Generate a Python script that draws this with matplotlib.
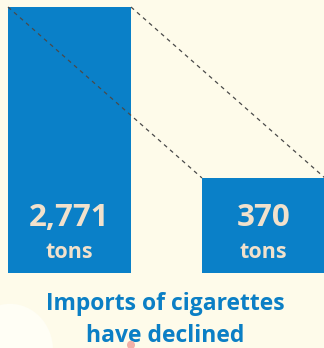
import matplotlib
matplotlib.use("Agg")
import matplotlib.pyplot as plt
from matplotlib.patches import Circle
from matplotlib.transforms import blended_transform_factory


# data
categories = ["before", "after"]
tons = [2771, 370]
value_labels = ["2,771", "370"]
unit_label = "tons"
title_lines = ["Imports of cigarettes", "have declined"]

BG_COLOR = "#FEFBEA"
BAR_COLOR = "#0A80C8"
NUM_COLOR = "#F1E1CC"
TITLE_COLOR = "#0B7FC5"
FONT = ["Open Sans", "DejaVu Sans"]

fig = plt.figure(figsize=(3.24, 3.48), dpi=100)
fig.patch.set_facecolor(BG_COLOR)

# lighter blob bottom left
fig.patches.append(Circle((10 / 324, 1 - 350 / 348), 43 / 324, transform=fig.transFigure,
                          facecolor="#FFFEF5", edgecolor="none", zorder=0))

ax = fig.add_axes([0, 75.5 / 348, 1, 265.5 / 348])
ax.set_facecolor("none")
ax.set_zorder(2)

x = [0, 1]
width = 123 / 194
bars = ax.bar(x, tons, width=width, bottom=1, color=BAR_COLOR, zorder=1)
ax.set_yscale("log")
ax.set_ylim(121.6, tons[0])
ax.set_xlim(-69.5 / 194, (324 - 69.5) / 194)
ax.axis("off")

# dashed lines joining top corners of the bars
for side in (-0.5, 0.5):
    xs = [x[0] + side * width, x[1] + side * width]
    ax.plot(xs, tons, color="#4a4a4a", lw=0.9, dashes=(3.2, 3.2), zorder=3,
            clip_on=False)

trans = blended_transform_factory(ax.transData, fig.transFigure)
for xi, lab in zip(x, value_labels):
    ax.text(xi, (348 - 226) / 348, lab, transform=trans, ha="center", va="baseline",
            fontsize=22.5, fontweight="bold", color=NUM_COLOR, family=FONT, zorder=4)
    ax.text(xi, (348 - 258.3) / 348, unit_label, transform=trans, ha="center",
            va="baseline", fontsize=15.5, fontweight="bold", color=NUM_COLOR,
            family=FONT, zorder=4)

fig.text(165 / 324, (348 - 310) / 348, title_lines[0], ha="center", va="baseline",
         fontsize=16.5, fontweight="bold", color=TITLE_COLOR, family=FONT)
fig.text(165 / 324, (348 - 341.7) / 348, title_lines[1], ha="center", va="baseline",
         fontsize=16.5, fontweight="bold", color=TITLE_COLOR, family=FONT)

# small pink mark under the title
fig.patches.append(Circle((131 / 324, 1 - 345 / 348), 4 / 324, transform=fig.transFigure,
                          facecolor="#F2B0A8", edgecolor="none", zorder=5))

fig.savefig("out.png", dpi=100, facecolor=BG_COLOR)
